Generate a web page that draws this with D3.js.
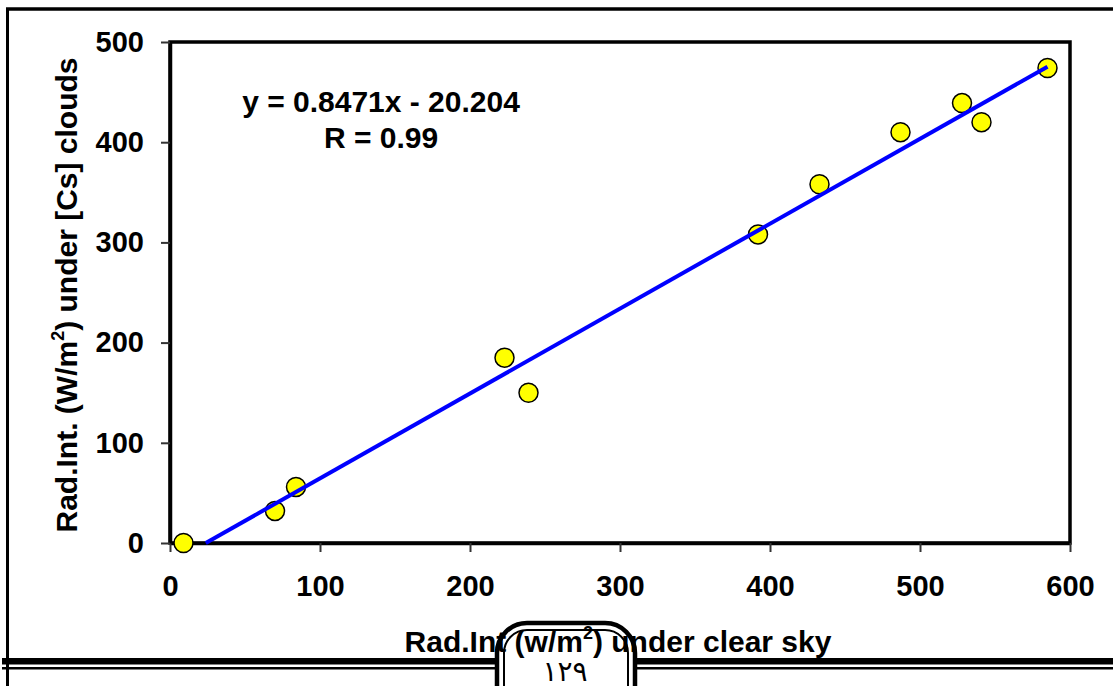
<!DOCTYPE html>
<html>
<head>
<meta charset="utf-8">
<script src="https://cdn.jsdelivr.net/npm/d3@7"></script>
<style>
  body { margin: 0; background: #fff; }
  text { font-family: "Liberation Sans", Arial, sans-serif; font-weight: bold; fill: #000; }
</style>
</head>
<body>
<div id="chart"></div>
<script>
// data
const xValues = [9, 70, 84, 223, 239, 392, 433, 487, 528, 541, 585];
const yValues = [0, 32, 56, 185, 150, 308, 358, 410, 439, 420, 474];
const xTicks = [0, 100, 200, 300, 400, 500, 600];
const yTicks = [0, 100, 200, 300, 400, 500];
// trendline as printed on the chart
const slope = 0.8471, intercept = -20.204;
const trendX = [23.85, 585];
const eqLines = ["y = 0.8471x - 20.204", "R = 0.99"];
const pageNumber = "١٢٩";

function scatter(){
  const W = 1113, H = 686;
  const plot = {left: 170, right: 1070, top: 42, bottom: 543};

  const svg = d3.select("#chart").append("svg").attr("width", W).attr("height", H);
  svg.append("rect").attr("width", W).attr("height", H).attr("fill", "#fff");

  // page frame
  svg.append("line").attr("x1", 7.5).attr("x2", 7.5).attr("y1", 8).attr("y2", H).attr("stroke", "#000").attr("stroke-width", 3);
  svg.append("line").attr("x1", 6).attr("x2", W).attr("y1", 9).attr("y2", 9).attr("stroke", "#000").attr("stroke-width", 3.5);
  svg.append("rect").attr("x", 2).attr("y", 658).attr("width", W).attr("height", 6.5).attr("fill", "#000");
  svg.append("rect").attr("x", 2).attr("y", 667).attr("width", W).attr("height", 2.5).attr("fill", "#000");

  // scales
  const x = d3.scaleLinear().domain([0, 600]).range([plot.left, plot.right]);
  const y = d3.scaleLinear().domain([0, 500]).range([plot.bottom, plot.top]);

  // plot frame
  svg.append("rect").attr("x", plot.left).attr("y", plot.top).attr("width", plot.right - plot.left)
     .attr("height", plot.bottom - plot.top).attr("fill", "none").attr("stroke", "#000").attr("stroke-width", 3.5);

  // axes
  const gx = svg.append("g").attr("transform", `translate(0, ${plot.bottom})`)
     .call(d3.axisBottom(x).tickValues(xTicks).tickSize(9).tickSizeOuter(0).tickPadding(23));
  const gy = svg.append("g").attr("transform", `translate(${plot.left}, 0)`)
     .call(d3.axisLeft(y).tickValues(yTicks).tickSize(9).tickSizeOuter(0).tickPadding(17));
  [gx, gy].forEach(g => {
    g.select(".domain").attr("stroke", "#000").attr("stroke-width", 3.5);
    g.selectAll(".tick line").attr("stroke", "#333").attr("stroke-width", 2);
    g.selectAll(".tick text").style("font-size", "29px").style("font-weight", "bold").attr("fill", "#000");
  });

  // points
  const pts = xValues.map((v, i) => ({x: v, y: yValues[i]}));
  svg.append("g").selectAll("circle").data(pts).join("circle")
     .attr("cx", d => x(d.x)).attr("cy", d => y(d.y)).attr("r", 9.5)
     .attr("fill", "#ffff00").attr("stroke", "#000").attr("stroke-width", 1.5);

  // trendline
  svg.append("line").attr("x1", x(trendX[0])).attr("y1", y(slope * trendX[0] + intercept))
     .attr("x2", x(trendX[1])).attr("y2", y(slope * trendX[1] + intercept))
     .attr("stroke", "#0000ff").attr("stroke-width", 4);

  // equation
  svg.selectAll("text.eq").data(eqLines).join("text").attr("class", "eq")
     .attr("x", 381).attr("y", (d, i) => 112 + i * 36).attr("text-anchor", "middle")
     .style("font-size", "30px").text(d => d);

  // y title
  const yt = svg.append("text").attr("transform", "translate(77, 295) rotate(-90)")
     .attr("text-anchor", "middle").style("font-size", "30px");
  yt.append("tspan").text("Rad.Int. (W/m");
  yt.append("tspan").text("2").style("font-size", "18px").attr("dy", -13);
  yt.append("tspan").text(") under [Cs] clouds").attr("dy", 13);

  // page number box
  const box = (x0, x1, y0, r) => `M${x0},${H + 20}V${y0 + r}A${r},${r} 0 0 1 ${x0 + r},${y0}H${x1 - r}A${r},${r} 0 0 1 ${x1},${y0 + r}V${H + 20}`;
  svg.append("path").attr("d", box(497, 635, 623, 30)).attr("fill", "#fff").attr("stroke", "#000").attr("stroke-width", 4.5);
  svg.append("path").attr("d", box(504, 628, 630, 23)).attr("fill", "none").attr("stroke", "#000").attr("stroke-width", 2);
  svg.append("text").attr("x", 565).attr("y", 681).attr("text-anchor", "middle")
     .style("font-family", "'DejaVu Sans', sans-serif").style("font-weight", "normal").style("font-size", "28px")
     .text(pageNumber);

  // x title
  const xt = svg.append("text").attr("x", 618).attr("y", 652).attr("text-anchor", "middle").style("font-size", "30px");
  xt.append("tspan").text("Rad.Int (w/m");
  xt.append("tspan").text("2").style("font-size", "18px").attr("dy", -13);
  xt.append("tspan").text(") under clear sky").attr("dy", 13);
}

scatter();
</script>
</body>
</html>
